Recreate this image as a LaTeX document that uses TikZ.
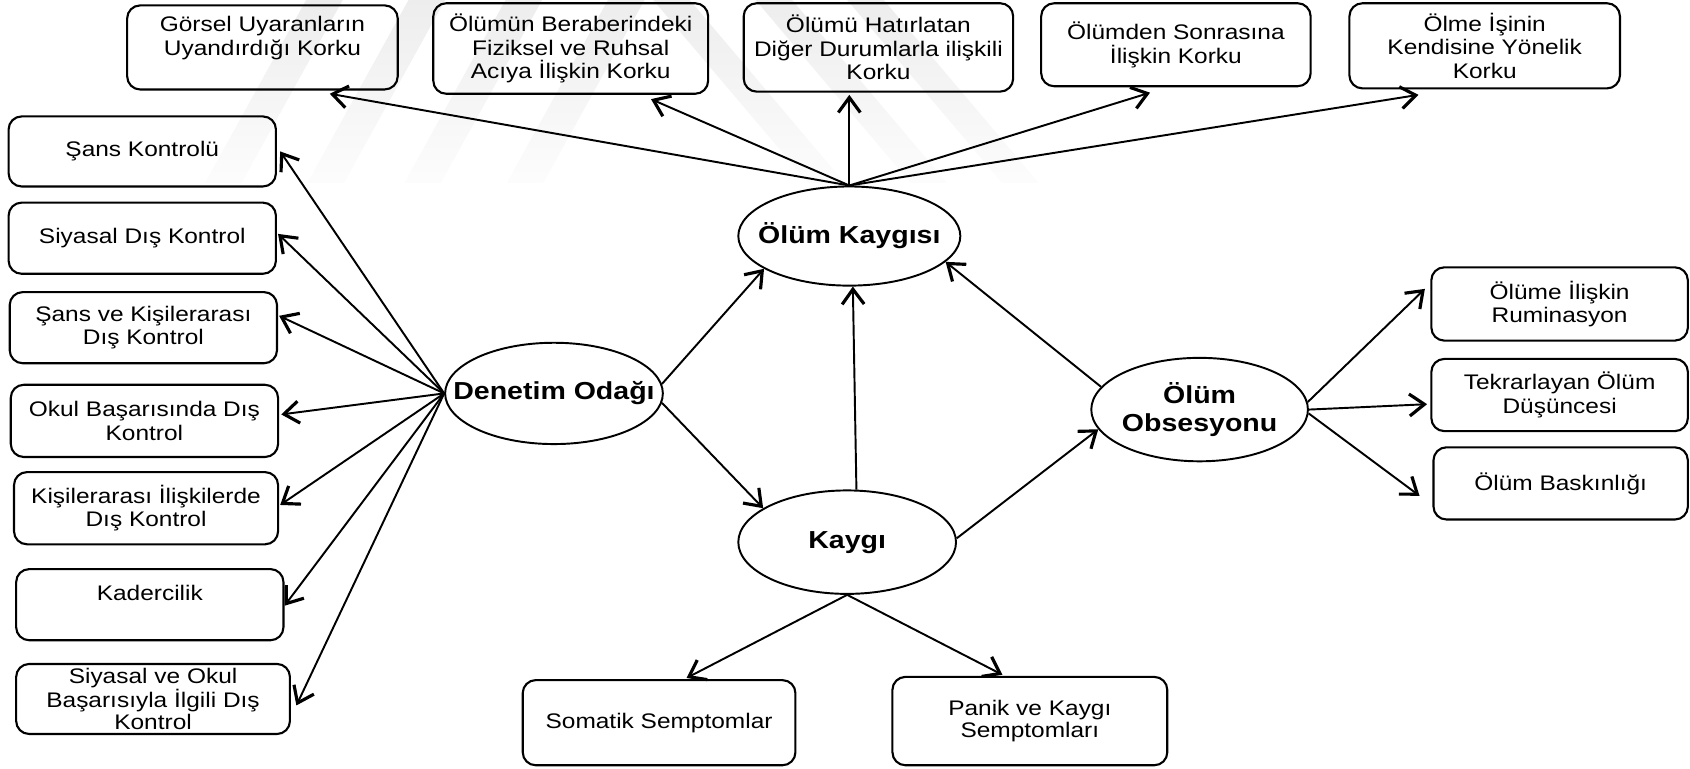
\documentclass[tikz,border=0pt]{standalone}
\usepackage{fontspec}
\setmainfont{Liberation Sans}[FakeStretch=1.16]
\usetikzlibrary{shapes.geometric,arrows.meta,calc}

\newcommand{\birim}{0.021556cm}

\begin{document}
\begin{tikzpicture}[x=\birim, y=-\birim, line width=1.1pt,
	kutu/.style 2 args={draw, rounded corners=2.6mm, line width=1.2pt, inner sep=0pt, align=center, font=\fontsize{12}{13.5}\selectfont, minimum width=#1*\birim, minimum height=#2*\birim},
	kavram/.style 2 args={draw, ellipse, inner sep=0pt, align=center, font=\fontsize{14}{16}\selectfont\bfseries, minimum width=#1*\birim, minimum height=#2*\birim},
	sik/.style={font=\fontsize{12}{12.3}\selectfont},
	serit/.style={top color=black!7, bottom color=black!1},
	oklu/.style={-{Straight Barb[length=3mm, width=4.4mm, line width=1.8pt]}}]
				
				\useasboundingbox (0,0) rectangle (1568,713);
				
				% draw the faint stripes in the background
				\foreach \a in {190,285,375,470}
				\shade[serit] (\a,170) -- (\a+34,170) -- (\a+128,0) -- (\a+94,0) -- cycle;
				\foreach \a in {750,845,930}
				\shade[serit] (\a,170) -- (\a+34,170) -- (\a-110,0) -- (\a-144,0) -- cycle;
				
				% draw the top boxes
				\node[kutu={251}{78}] (gorsel) at (243.5,44) {Görsel Uyaranların\\Uyandırdığı Korku\\~};
				\node[kutu={255}{84}] (olumun) at (529.5,45) {Ölümün Beraberindeki\\Fiziksel ve Ruhsal\\Acıya İlişkin Korku};
				\node[kutu={250}{82}] (olumu) at (815,44) {Ölümü Hatırlatan\\Diğer Durumlarla ilişkili\\Korku};
				\node[kutu={250}{77}] (sonrasi) at (1091,41.5) {Ölümden Sonrasına\\İlişkin Korku};
				\node[kutu={251}{79}] (olme) at (1377.5,42.5) {Ölme İşinin\\Kendisine Yönelik\\Korku};
				
				% draw the left boxes
				\node[kutu={248}{65}] (sans) at (132,140.5) {Şans Kontrolü};
				\node[kutu={248}{66}] (siyasal) at (132,221) {Siyasal Dış Kontrol};
				\node[kutu={248}{66}] (sanskisi) at (133,304) {Şans ve Kişilerarası\\Dış Kontrol};
				\node[kutu={248}{67}] (okul) at (134,390.5) {Okul Başarısında Dış\\Kontrol};
				\node[kutu={245}{67}] (kisiler) at (135.5,471.5) {Kişilerarası İlişkilerde\\Dış Kontrol};
				\node[kutu={248}{66}] (kader) at (139,561) {Kadercilik\\~};
				\node[kutu={254}{65}, sik] (siyasalokul) at (142,648.5) {Siyasal ve Okul\\Başarısıyla İlgili Dış\\Kontrol};
				
				% draw the right and bottom boxes
				\node[kutu={238}{68}] (rumi) at (1447,282) {Ölüme İlişkin\\Ruminasyon};
				\node[kutu={238}{67}] (tekrar) at (1447,366.5) {Tekrarlayan Ölüm\\Düşüncesi};
				\node[kutu={236}{67}] (baskin) at (1448,448.5) {Ölüm Baskınlığı};
				\node[kutu={253}{79}] (somatik) at (611.5,670.5) {Somatik Semptomlar};
				\node[kutu={255}{82}, sik] (panik) at (955.5,669) {Panik ve Kaygı\\Semptomları};
				
				% draw the ellipses
				\node[kavram={206}{92}] (olumkaygisi) at (788,219) {\makebox[0pt]{Ölüm Kaygısı}};
				\node[kavram={202}{94}] (denetim) at (514,365) {\makebox[0pt]{Denetim Odağı}};
				\node[kavram={202}{96}] (kaygi) at (786,503) {\makebox[0pt]{Kaygı}};
				\node[kavram={201}{96}] (obsesyon) at (1113,380) {\makebox[0pt]{Ölüm}\\\makebox[0pt]{Obsesyonu}};
				
				% draw arrows to the fears
				\draw[oklu] (olumkaygisi.north) -- ($(gorsel.south east)+(-64,3)$);
				\draw[oklu] (olumkaygisi.north) -- ($(olumun.south)+(74.5,4)$);
				\draw[oklu] (olumkaygisi.north) -- ($(olumu.south)+(-27,2)$);
				\draw[oklu] (olumkaygisi.north) -- ($(sonrasi.south)+(-24,5)$);
				\draw[oklu] (olumkaygisi.north) -- ($(olme.south west)+(65,5)$);
				
				% draw arrows to the left boxes
				\foreach \hedef/\dx/\dy in {sans/3/0, siyasal/1/-4, sanskisi/1/-11, okul/2/-6, kisiler/1/-3, kader/0/1, siyasalokul/5/6}
				\draw[oklu] (denetim.west) -- ($(\hedef.east)+(\dx,\dy)$);
				
				% draw arrows between the ellipses
				\draw[oklu] (denetim.5) -- (olumkaygisi.201);
				\draw[oklu] (denetim.-5) -- (kaygi.158);
				\draw[oklu] (kaygi.80) -- (olumkaygisi.274);
				\draw[oklu] (obsesyon.167) -- (olumkaygisi.-15);
				\draw[oklu] (kaygi.2) -- (obsesyon.191);
				
				% draw arrows to the right and bottom boxes
				\draw[oklu] (obsesyon.4) -- ($(rumi.west)+(-5,-14)$);
				\draw[oklu] (obsesyon.east) -- ($(tekrar.west)+(-3,8.5)$);
				\draw[oklu] (obsesyon.-2) -- ($(baskin.west)+(-12,11.5)$);
				\draw[oklu] (kaygi.south) -- ($(somatik.north)+(25.5,-1)$);
				\draw[oklu] (kaygi.south) -- ($(panik.north)+(-25.5,-1)$);
			\end{tikzpicture}
\end{document}
